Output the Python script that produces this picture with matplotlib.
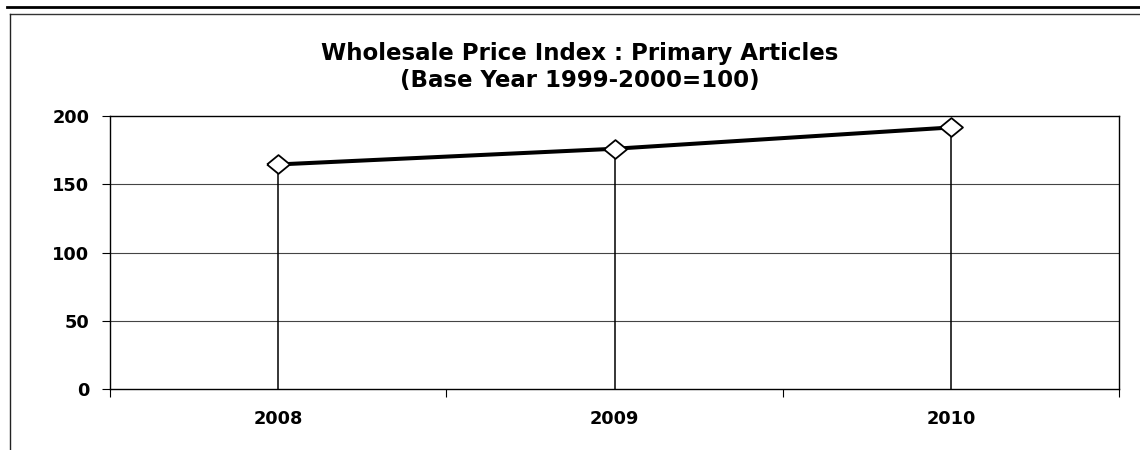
import matplotlib
matplotlib.use("Agg")
import matplotlib.pyplot as plt
from matplotlib.lines import Line2D
import numpy as np

plt.rcParams['font.family'] = ['DejaVu Sans']

years = ["2008", "2009", "2010"]
wpi = [164.5, 176.0, 191.6]
yticks = [0, 50, 100, 150, 200]
title = "Wholesale Price Index : Primary Articles\n(Base Year 1999-2000=100)"

W, H = 1140, 450
fig = plt.figure(figsize=(W / 100, H / 100), dpi=100)

# axes placement in pixels
left, right, top, bottom = 110, 1119, 116, 389
ax = fig.add_axes([left / W, 1 - bottom / H, (right - left) / W, (bottom - top) / H])

x = np.arange(len(years))
ax.set_xlim(-0.5, len(years) - 0.5)
ax.set_ylim(0, 200)

# gridlines
for v in yticks[1:-1]:
    ax.axhline(v, color='#444444', lw=0.8, zorder=1)

# drop lines
ax.vlines(x, 0, wpi, color='black', lw=1.1, zorder=2)

diamond = [(-1, 0), (0, 0.82), (1, 0), (0, -0.82), (-1, 0)]
ax.plot(x, wpi, color='black', lw=2.9, zorder=3,
        marker=diamond, markersize=16.5, markerfacecolor='white',
        markeredgecolor='black', markeredgewidth=1.3)

ax.set_yticks(yticks)
ax.set_yticklabels([str(t) for t in yticks], fontsize=12.8, fontweight='bold')
ax.set_xticks(x)
ax.set_xticklabels(years, fontsize=12.8, fontweight='bold')
ax.tick_params(axis='x', length=0, pad=15)
ax.set_xticks(np.arange(-0.5, len(years), 1.0), minor=True)
ax.tick_params(axis='x', which='minor', length=6, width=0.8, direction='out')
ax.tick_params(axis='y', length=6, width=0.8, direction='out', pad=9)

for s in ax.spines.values():
    s.set_color('black')
    s.set_linewidth(1.0)

fig.text(580 / W, 1 - 67 / H, title, ha='center', va='center',
         fontsize=16.5, fontweight='bold', linespacing=1.2)

# outer frame lines
fig.add_artist(Line2D([7 / W, 1.0], [1 - 6.5 / H, 1 - 6.5 / H], color='black', lw=2.0))
fig.add_artist(Line2D([10 / W, 1.0], [1 - 14 / H, 1 - 14 / H], color='#333333', lw=1.0))
fig.add_artist(Line2D([10.5 / W, 10.5 / W], [1 - 14 / H, 0], color='#222222', lw=1.0))

fig.savefig("out.png", dpi=100)
